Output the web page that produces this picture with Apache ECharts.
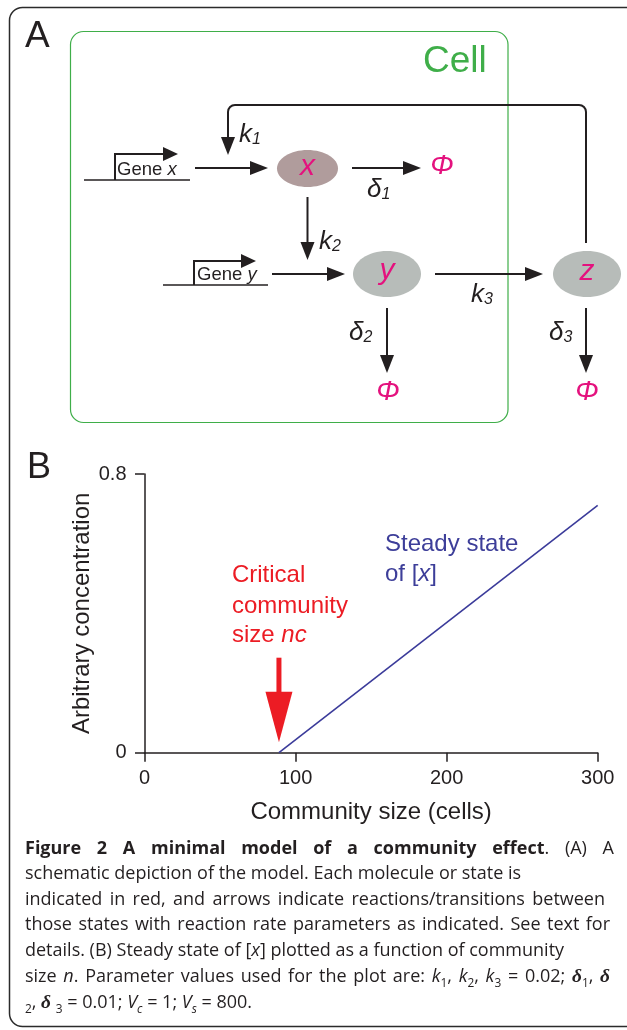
<!DOCTYPE html>
<html>
<head>
<meta charset="utf-8">
<script src="https://cdn.jsdelivr.net/npm/echarts@6/dist/echarts.min.js"></script>
<style>
html,body{margin:0;padding:0;background:#fff;}
#chart{width:627px;height:1030px;}
</style>
</head>
<body>
<div id="chart"></div>
<script>
// ---------------- data (panel B) ----------------
const communitySize = [89, 300];          // cells
const steadyStateX  = [0, 0.71];          // arbitrary concentration
const criticalSize  = 89;                 // n_c
const xMin = 0, xMax = 300, xStep = 100;
const yMin = 0, yMax = 0.8, yStep = 0.8;

// ---------------- caption text ----------------
const captionLines = [
  { end: 614, text: "{b:Figure} {b:2} {b:A} {b:minimal} {b:model} {b:of} {b:a} {b:community} {b:effect}. (A) A" },
  { end: null, text: "schematic depiction of the model. Each molecule or state is" },
  { end: 605, text: "indicated in red, and arrows indicate reactions/transitions between" },
  { end: 610, text: "those states with reaction rate parameters as indicated. See text for" },
  { end: null, text: "details. (B) Steady state of [{i:x}] plotted as a function of community" },
  { end: 610, text: "size {i:n}. Parameter values used for the plot are: {i:k}{s:1}, {i:k}{s:2}, {i:k}{s:3} = 0.02; {g:δ}{s:1}, {g:δ}" },
  { end: null, text: "{s:2}, {g:δ} {s:3} = 0.01; {i:V}{t:c} = 1; {i:V}{t:s} = 800." }
];
const captionBaselines = [856, 881, 906.5, 932, 958, 984, 1010];

// ---------------- styles ----------------
const SANS = "'Liberation Sans', Arial, Helvetica, sans-serif";
const OPEN = "'Open Sans', sans-serif";
const SERIF = "'Liberation Serif', 'Times New Roman', serif";
const INK = '#231f20', MAG = '#e4127e', GREEN = '#3fae49', RED = '#ec1c24', BLUE = '#3b3b9a';

const chart = echarts.init(document.getElementById('chart'), null, { renderer: 'canvas' });

chart.setOption({
  animation: false,
  tooltip: { show: false },
  grid: { left: 144.5, right: 29.3, top: 474, bottom: 277.3, containLabel: false },
  xAxis: {
    type: 'value', min: xMin, max: xMax, interval: xStep,
    name: 'Community size (cells)', nameLocation: 'middle', nameGap: 48, nameMoveOverlap: false,
    nameTextStyle: { fontSize: 24, color: INK, fontFamily: SANS },
    axisLine: { show: true, onZero: false, lineStyle: { color: INK, width: 1.5 } },
    axisTick: { show: true, inside: false, length: 9, lineStyle: { color: INK, width: 1.5 } },
    axisLabel: { show: true, fontSize: 20, color: INK, fontFamily: SANS, margin: 16 },
    splitLine: { show: false }
  },
  yAxis: {
    type: 'value', min: yMin, max: yMax, interval: yStep,
    name: 'Arbitrary concentration', nameLocation: 'middle', nameGap: 50, nameRotate: 90, nameMoveOverlap: false,
    nameTextStyle: { fontSize: 24, color: INK, fontFamily: SANS },
    axisLine: { show: true, onZero: false, lineStyle: { color: INK, width: 1.5 } },
    axisTick: { show: true, inside: false, length: 9.5, lineStyle: { color: INK, width: 1.5 } },
    axisLabel: { show: true, fontSize: 20, color: INK, fontFamily: SANS, margin: 18 },
    splitLine: { show: false }
  },
  series: [{
    type: 'line', silent: true, symbol: 'none',
    data: communitySize.map((n, i) => [n, steadyStateX[i]]),
    lineStyle: { color: BLUE, width: 1.6 }
  }]
});

// ---------------- helpers ----------------
const els = [];
function txt(x, y, text, o) {
  return { type: 'text', x: x, y: y, silent: true,
    style: Object.assign({ text: text, fill: INK, fontFamily: SANS, fontSize: 20,
      textAlign: 'left', textVerticalAlign: 'middle' }, o || {}) };
}
function line(x1, y1, x2, y2, w, c) {
  return { type: 'line', silent: true, shape: { x1, y1, x2, y2 }, style: { stroke: c || INK, lineWidth: w || 2 } };
}
function head(tx, ty, ux, uy, hl, hw, c) {
  const bx = tx - ux * hl, by = ty - uy * hl;
  return { type: 'polygon', silent: true,
    shape: { points: [[tx, ty], [bx - uy * hw, by + ux * hw], [bx + uy * hw, by - ux * hw]] },
    style: { fill: c || INK } };
}
function arrow(x1, y1, x2, y2, o) {
  o = o || {};
  const hl = o.hl || 18, hw = o.hw || 7, lw = o.lw || 2, c = o.c || INK;
  const dx = x2 - x1, dy = y2 - y1, L = Math.hypot(dx, dy), ux = dx / L, uy = dy / L;
  els.push(line(x1, y1, x2 - ux * (hl - 2), y2 - uy * (hl - 2), lw, c));
  els.push(head(x2, y2, ux, uy, hl, hw, c));
}
function arc(cx, cy, r, a0, a1) {
  return { type: 'arc', silent: true, shape: { cx, cy, r, startAngle: a0, endAngle: a1, clockwise: true },
    style: { stroke: INK, lineWidth: 2, fill: 'none' } };
}
function subLabel(x, baseline, main, sub, color) {
  return { type: 'text', x: x, y: baseline + 4, silent: true,
    style: { text: '{m|' + main + '}{s|' + sub + '}', textAlign: 'left', textVerticalAlign: 'bottom',
      rich: {
        m: { fontSize: 26, fontStyle: 'italic', fontFamily: SANS, fill: color || INK, color: color || INK, verticalAlign: 'bottom' },
        s: { fontSize: 16, fontStyle: 'italic', fontFamily: SANS, fill: color || INK, color: color || INK, verticalAlign: 'bottom' }
      } } };
}

// ---------------- frames ----------------
els.push({ type: 'rect', silent: true, shape: { x: 9.5, y: 7.5, width: 680, height: 1019, r: 13 },
  style: { fill: 'none', stroke: '#2b2b2b', lineWidth: 1.5 } });
els.push({ type: 'rect', silent: true, shape: { x: 70.5, y: 31.5, width: 437.5, height: 391, r: 13 },
  style: { fill: 'none', stroke: GREEN, lineWidth: 1.2 } });

// panel letters
els.push(txt(25, 36.5, 'A', { fontSize: 37 }));
els.push(txt(27, 468, 'B', { fontSize: 36 }));
els.push(txt(423, 61.5, 'Cell', { fontSize: 37, fill: GREEN }));

// ---------------- panel A diagram ----------------
// feedback loop z -> k1
els.push(line(586, 243, 586, 112, 2));
els.push(arc(579, 112, 7, -Math.PI / 2, 0));
els.push(line(579, 105, 235, 105, 2));
els.push(arc(235, 112, 7, Math.PI, Math.PI * 1.5));
arrow(228, 112, 228, 155);

// gene x promoter
els.push(line(84, 180, 190, 180, 1.5));
els.push({ type: 'polyline', silent: true, shape: { points: [[115, 180], [115, 154], [166, 154]] },
  style: { stroke: INK, lineWidth: 2, fill: 'none' } });
els.push(head(178, 154, 1, 0, 15, 7));
els.push({ type: 'text', x: 117, y: 170, silent: true, style: { text: '{r|Gene }{i|x}', textAlign: 'left', textVerticalAlign: 'middle',
  rich: { r: { fontSize: 18.5, fontFamily: SANS, fill: INK, color: INK }, i: { fontSize: 18.5, fontFamily: SANS, fontStyle: 'italic', fill: INK, color: INK } } } });

// gene y promoter
els.push(line(163, 285, 268, 285, 1.5));
els.push({ type: 'polyline', silent: true, shape: { points: [[194, 285], [194, 261], [244, 261]] },
  style: { stroke: INK, lineWidth: 2, fill: 'none' } });
els.push(head(256, 261, 1, 0, 15, 7));
els.push({ type: 'text', x: 197, y: 275, silent: true, style: { text: '{r|Gene }{i|y}', textAlign: 'left', textVerticalAlign: 'middle',
  rich: { r: { fontSize: 18.5, fontFamily: SANS, fill: INK, color: INK }, i: { fontSize: 18.5, fontFamily: SANS, fontStyle: 'italic', fill: INK, color: INK } } } });

// nodes
els.push({ type: 'ellipse', silent: true, shape: { cx: 307.5, cy: 168.5, rx: 30.5, ry: 18.5 }, style: { fill: '#b09c9c' } });
els.push({ type: 'ellipse', silent: true, shape: { cx: 387, cy: 274, rx: 34, ry: 23 }, style: { fill: '#b7bcb9' } });
els.push({ type: 'ellipse', silent: true, shape: { cx: 587, cy: 274, rx: 34, ry: 23 }, style: { fill: '#b7bcb9' } });
els.push(txt(307.5, 166.5, 'x', { fontSize: 30, fontStyle: 'italic', fill: MAG, textAlign: 'center' }));
els.push(txt(387, 270.5, 'y', { fontSize: 30, fontStyle: 'italic', fill: MAG, textAlign: 'center' }));
els.push(txt(587, 271.5, 'z', { fontSize: 30, fontStyle: 'italic', fill: MAG, textAlign: 'center' }));

// reaction arrows
arrow(195, 168, 268, 168);       // gene x -> x
arrow(352, 168, 421, 168);       // x -> degradation
arrow(307.5, 197, 307.5, 260);   // x -> y (k2)
arrow(272, 274, 345, 274);       // gene y -> y
arrow(435, 274, 543, 274);       // y -> z (k3)
arrow(387, 308, 387, 373);       // y -> degradation
arrow(586, 308, 586, 373);       // z -> degradation

// Φ sinks
els.push(txt(442, 166, 'Φ', { fontSize: 28, fontStyle: 'italic', fill: MAG, textAlign: 'center' }));
els.push(txt(388, 392, 'Φ', { fontSize: 28, fontStyle: 'italic', fill: MAG, textAlign: 'center' }));
els.push(txt(587, 392, 'Φ', { fontSize: 28, fontStyle: 'italic', fill: MAG, textAlign: 'center' }));

// rate labels
els.push(subLabel(239, 144, 'k', '1'));
els.push(subLabel(319, 251, 'k', '2'));
els.push(subLabel(471, 304, 'k', '3'));
els.push(subLabel(367, 199, 'δ', '1'));
els.push(subLabel(349, 342, 'δ', '2'));
els.push(subLabel(549, 342, 'δ', '3'));

// ---------------- panel B annotations ----------------
const p = chart.convertToPixel({ gridIndex: 0 }, [criticalSize, 0]);
const ax = p[0], ay = p[1];
els.push({ type: 'rect', silent: true, shape: { x: ax - 2.5, y: ay - 95, width: 5, height: 35 }, style: { fill: RED } });
els.push({ type: 'polygon', silent: true, shape: { points: [[ax - 13.5, ay - 61], [ax + 13.5, ay - 61], [ax, ay - 10.5]] }, style: { fill: RED } });
els.push(txt(ax - 47, 575, 'Critical', { fontSize: 24, fill: RED }));
els.push(txt(ax - 47, 606, 'community', { fontSize: 24, fill: RED }));
els.push({ type: 'text', x: ax - 47, y: 635, silent: true, style: { text: '{r|size }{i|nc}', textAlign: 'left', textVerticalAlign: 'middle',
  rich: { r: { fontSize: 24, fontFamily: SANS, fill: RED, color: RED }, i: { fontSize: 24, fontFamily: SANS, fontStyle: 'italic', fill: RED, color: RED } } } });
els.push(txt(385, 544, 'Steady state', { fontSize: 24, fill: '#3d3e99' }));
els.push({ type: 'text', x: 385, y: 574, silent: true, style: { text: '{r|of [}{i|x}{r|]}', textAlign: 'left', textVerticalAlign: 'middle',
  rich: { r: { fontSize: 24, fontFamily: SANS, fill: '#3d3e99', color: '#3d3e99' }, i: { fontSize: 24, fontFamily: SANS, fontStyle: 'italic', fill: '#3d3e99', color: '#3d3e99' } } } });

// ---------------- caption ----------------
const CS = 18;
const segStyle = {
  r: { fontSize: CS, fontStyle: 'normal', fontWeight: 'normal', fontFamily: OPEN, asc: 0.388, dy: 0 },
  b: { fontSize: CS, fontStyle: 'normal', fontWeight: 'bold', fontFamily: OPEN, asc: 0.388, dy: 0 },
  i: { fontSize: CS, fontStyle: 'italic', fontWeight: 'normal', fontFamily: OPEN, asc: 0.388, dy: 0 },
  s: { fontSize: CS * 0.66, fontStyle: 'normal', fontWeight: 'normal', fontFamily: OPEN, asc: 0.388, dy: CS * 0.22 },
  t: { fontSize: CS * 0.66, fontStyle: 'italic', fontWeight: 'normal', fontFamily: OPEN, asc: 0.388, dy: CS * 0.22 },
  g: { fontSize: CS * 1.08, fontStyle: 'italic', fontWeight: 'bold', fontFamily: SERIF, asc: 0.3375, dy: 0 }
};
const mctx = document.createElement('canvas').getContext('2d');
function fontStr(st) { return st.fontStyle + ' ' + st.fontWeight + ' ' + st.fontSize + 'px ' + st.fontFamily; }
function measure(t, st) { mctx.font = fontStr(st); return mctx.measureText(t).width; }
function parseWord(w) {
  const segs = []; const re = /\{(\w):([^}]*)\}|([^{]+)/g; let m;
  while ((m = re.exec(w))) { if (m[1]) segs.push([m[1], m[2]]); else segs.push(['r', m[3]]); }
  return segs;
}
const CAP_LEFT = 25;
captionLines.forEach((ln, li) => {
  const words = ln.text.split(' ').map(parseWord);
  const widths = words.map(ws => ws.reduce((a, s) => a + measure(s[1], segStyle[s[0]]), 0));
  const total = widths.reduce((a, b) => a + b, 0);
  let gap = measure(' ', segStyle.r);
  if (ln.end && words.length > 1) gap = Math.max(2, (ln.end - CAP_LEFT - total) / (words.length - 1));
  let x = CAP_LEFT;
  const base = captionBaselines[li];
  words.forEach((ws, wi) => {
    ws.forEach(s => {
      const st = segStyle[s[0]];
      els.push({ type: 'text', x: x, y: base + st.dy - st.asc * st.fontSize, silent: true,
        style: { text: s[1], fill: INK, fontSize: st.fontSize, fontStyle: st.fontStyle, fontWeight: st.fontWeight,
          fontFamily: st.fontFamily, textAlign: 'left', textVerticalAlign: 'middle' } });
      x += measure(s[1], st);
    });
    x += gap;
  });
});

chart.setOption({ graphic: { elements: els } });
</script>
</body>
</html>
